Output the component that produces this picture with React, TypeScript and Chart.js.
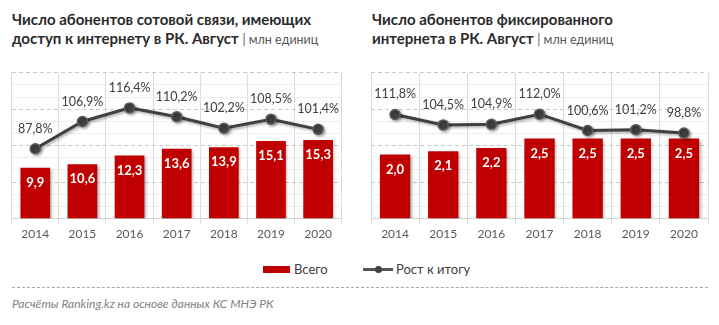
import React, { useEffect, useRef } from "react";
import { Chart, registerables } from "chart.js";

Chart.register(...registerables);

const years = ["2014", "2015", "2016", "2017", "2018", "2019", "2020"];
const mobileTotal = [9.9, 10.6, 12.3, 13.6, 13.9, 15.1, 15.3];
const mobileGrowth = [87.8, 106.9, 116.4, 110.2, 102.2, 108.5, 101.4];
const fixedTotal = [2.0, 2.1, 2.2, 2.5, 2.5, 2.5, 2.5];
const fixedGrowth = [111.8, 104.5, 104.9, 112.0, 100.6, 101.2, 98.8];

const FONT = "Lato, 'Open Sans', sans-serif";
const RED = "#c00000";
const DARK = "#404040";

const fmt = (v: number) => v.toFixed(1).replace(".", ",");

const labelPlugin = {
  id: "valueLabels",
  beforeDatasetDraw(chart: any, args: any) {
    const ctx = chart.ctx;
    ctx.save();
    ctx.shadowColor = "rgba(0,0,0,0.35)";
    ctx.shadowOffsetX = 1.5;
    ctx.shadowOffsetY = 1.5;
    ctx.shadowBlur = 3;
  },
  afterDatasetDraw(chart: any) {
    chart.ctx.restore();
  },
  afterDatasetsDraw(chart: any) {
    const ctx = chart.ctx;
    ctx.save();
    ctx.textAlign = "center";
    ctx.textBaseline = "middle";
    chart.data.datasets.forEach((ds: any, di: number) => {
      const meta = chart.getDatasetMeta(di);
      meta.data.forEach((el: any, i: number) => {
        const v = ds.data[i];
        if (ds.type === "bar") {
          ctx.font = `bold 13px ${FONT}`;
          ctx.fillStyle = "#ffffff";
          ctx.fillText(fmt(v), el.x, el.y + 15);
        } else {
          ctx.font = `12.5px ${FONT}`;
          ctx.fillStyle = DARK;
          ctx.fillText(fmt(v) + "%", el.x, el.y - 20);
        }
      });
    });
    ctx.restore();
  },
};

function makeConfig(totals: number[], growth: number[], barMax: number, padL: number, padR: number): any {
  return {
    data: {
      labels: years,
      datasets: [
        {
          type: "line",
          label: "Рост к итогу",
          data: growth,
          yAxisID: "y1",
          order: 0,
          borderColor: DARK,
          borderWidth: 3,
          pointRadius: 5,
          pointBackgroundColor: DARK,
          pointBorderColor: "#5c5c5c",
          pointBorderWidth: 1.5,
          tension: 0,
        },
        {
          type: "bar",
          label: "Всего",
          data: totals,
          yAxisID: "y",
          order: 1,
          backgroundColor: RED,
          categoryPercentage: 1,
          barPercentage: 0.63,
        },
      ],
    },
    options: {
      responsive: false,
      animation: false,
      layout: { padding: { left: padL, right: padR, top: 12.7, bottom: 0 } },
      plugins: { legend: { display: false }, tooltip: { enabled: false } },
      scales: {
        x: {
          grid: { offset: true, color: "#dcdcdc", tickLength: 5, drawTicks: true },
          border: { color: "#d4d4d4" },
          ticks: { color: "#595959", font: { family: FONT, size: 12 }, padding: 3 },
        },
        y: { display: false, min: 0, max: barMax },
        y1: { display: false, min: 39, max: 141 },
        g: {
          type: "linear",
          position: "left",
          min: 0,
          max: 12,
          ticks: { display: false, stepSize: 1 },
          border: {
            display: false,
            dash: (c: any) => (c.tick && c.tick.value % 3 === 0 ? [4, 3] : []),
          },
          grid: {
            drawTicks: false,
            tickLength: 0,
            lineWidth: 1,
            color: (c: any) =>
              !c.tick || c.tick.value === 0
                ? "rgba(0,0,0,0)"
                : c.tick.value % 3 === 0
                ? "#c9c9c9"
                : "#eeeeee",
          },
        },
      },
    },
    plugins: [labelPlugin],
  };
}

function ChartCanvas(props: { totals: number[]; growth: number[]; barMax: number; left: number; width: number; padL: number; padR: number }) {
  const ref = useRef<HTMLCanvasElement | null>(null);
  useEffect(() => {
    if (!ref.current) return;
    const chart = new Chart(ref.current, makeConfig(props.totals, props.growth, props.barMax, props.padL, props.padR));
    return () => chart.destroy();
  }, []);
  return (
    <canvas
      ref={ref}
      width={props.width}
      height={184}
      style={{ position: "absolute", left: props.left, top: 60, width: props.width, height: 184 }}
    />
  );
}

const titleStyle: React.CSSProperties = {
  position: "absolute",
  top: 10,
  fontFamily: FONT,
  fontWeight: 700,
  fontSize: 15,
  lineHeight: "19px",
  color: "#2b2b2b",
  whiteSpace: "nowrap",
};
const unitStyle: React.CSSProperties = {
  fontWeight: 400,
  fontSize: 12.5,
  color: "#595959",
};

export default function App() {
  return (
    <div
      style={{
        position: "fixed",
        left: 0,
        top: 0,
        width: 719,
        height: 325,
        background: "#ffffff",
        overflow: "hidden",
      }}
    >
      <div style={{ ...titleStyle, left: 12 }}>
        Число абонентов сотовой связи, имеющих
        <br />
        доступ к интернету в РК. Август <span style={unitStyle}>| млн единиц</span>
      </div>
      <div style={{ ...titleStyle, left: 372 }}>
        Число абонентов фиксированного
        <br />
        интернета в РК. Август <span style={unitStyle}>| млн единиц</span>
      </div>

      <ChartCanvas totals={mobileTotal} growth={mobileGrowth} barMax={28.4} left={0} width={360} padL={11.7} padR={18.3} />
      <ChartCanvas totals={fixedTotal} growth={fixedGrowth} barMax={4.55} left={360} width={359} padL={11} padR={11} />

      <div style={{ position: "absolute", left: 263, top: 266, width: 27, height: 7, background: RED }} />
      <div
        style={{
          position: "absolute",
          left: 294,
          top: 260,
          fontFamily: FONT,
          fontSize: 13,
          lineHeight: "18px",
          color: DARK,
        }}
      >
        Всего
      </div>
      <div style={{ position: "absolute", left: 363, top: 268, width: 30, height: 3, background: "#555" }} />
      <div
        style={{
          position: "absolute",
          left: 375,
          top: 266,
          width: 7,
          height: 7,
          borderRadius: 4,
          background: DARK,
        }}
      />
      <div
        style={{
          position: "absolute",
          left: 396,
          top: 260,
          fontFamily: FONT,
          fontSize: 13,
          lineHeight: "18px",
          color: DARK,
        }}
      >
        Рост к итогу
      </div>

      <div style={{ position: "absolute", left: 12, top: 287, width: 696, borderTop: "1px dashed #a8a8a8" }} />
      <div
        style={{
          position: "absolute",
          left: 12,
          top: 296,
          fontFamily: FONT,
          fontStyle: "italic",
          fontSize: 12,
          lineHeight: "16px",
          color: "#7f7f7f",
        }}
      >
        Расчёты Ranking.kz на основе данных КС МНЭ РК
      </div>
    </div>
  );
}
